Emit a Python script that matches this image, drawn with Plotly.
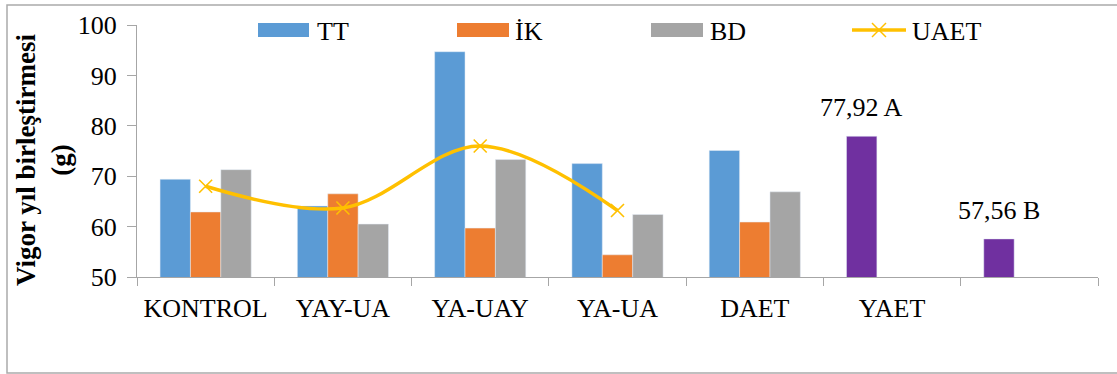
import plotly.graph_objects as go

# Treatment groups (last slot has no label)
categories = ["KONTROL", "YAY-UA", "YA-UAY", "YA-UA", "DAET", "YAET", " "]

# Vigor yıl birleştirmesi (g) per series
tt = [69.4, 64.1, 94.7, 72.5, 75.1, None, None]
ik = [62.9, 66.5, 59.7, 54.4, 60.9, None, None]
bd = [71.3, 60.5, 73.3, 62.4, 66.9, None, None]
uaet = [68.0, 63.7, 76.0, 63.2]
means = [None, None, None, None, None, 77.92, 57.56]
mean_letters = [None, None, None, None, None, "A", "B"]

series_names = ["TT", "İK", "BD", "UAET"]
y_ticks = [50, 60, 70, 80, 90, 100]

# Styling
W, H = 1117, 374
L, R, T, B = 137, 19, 25, 97
FONT = "Liberation Serif"
C_TT, C_IK, C_BD, C_LINE, C_MEAN = "#5B9BD5", "#ED7D31", "#A5A5A5", "#FFC000", "#7030A0"
AXIS_GRAY = "#A6A6A6"
BARGAP = 0.336
PW, PH = W - L - R, H - T - B


def px(x):
    return (x - L) / PW


def py(y):
    return (H - B - y) / PH


fig = go.Figure()
fig.add_bar(x=categories, y=tt, name=series_names[0], marker_color=C_TT,
            offsetgroup="tt", showlegend=False)
fig.add_bar(x=categories, y=ik, name=series_names[1], marker_color=C_IK,
            offsetgroup="ik", showlegend=False)
fig.add_bar(x=categories, y=bd, name=series_names[2], marker_color=C_BD,
            offsetgroup="bd", showlegend=False)
# group means share the TT slot
fig.add_bar(x=categories, y=means, name="Ortalama", marker_color=C_MEAN,
            offsetgroup="tt", showlegend=False)
fig.add_scatter(x=categories[:len(uaet)], y=uaet, name=series_names[3],
                mode="lines+markers", line=dict(color=C_LINE, width=3.5, shape="spline"),
                marker=dict(symbol="x-thin", size=13, line=dict(color=C_LINE, width=1.6)),
                showlegend=False)

# mean labels above the purple bars
slot = (1 - BARGAP) / 3
annotations = []
for i, (v, letter) in enumerate(zip(means, mean_letters)):
    if v is None:
        continue
    annotations.append(dict(
        x=i - slot, y=v, xref="x", yref="y", yanchor="bottom", yshift=12,
        text=f"{v:.2f}".replace(".", ",") + " " + letter, showarrow=False,
        font=dict(family=FONT, size=26, color="black")))

# y-axis title
annotations.append(dict(
    x=px(43), y=py(160), xref="paper", yref="paper", textangle=-90,
    xanchor="center", yanchor="middle",
    text="<b>Vigor yıl birleştirmesi<br>(g)</b>", showarrow=False,
    font=dict(family=FONT, size=27, color="black")))

# legend
shapes = []
legend_bars = [(258, 309, C_TT, series_names[0], 315),
               (457, 509, C_IK, series_names[1], 513),
               (651, 703, C_BD, series_names[2], 708)]
for x0, x1, col, name, tx in legend_bars:
    shapes.append(dict(type="rect", xref="paper", yref="paper",
                       x0=px(x0), x1=px(x1), y0=py(37), y1=py(23),
                       fillcolor=col, line=dict(width=0)))
    annotations.append(dict(x=px(tx), y=py(31), xref="paper", yref="paper",
                            xanchor="left", yanchor="middle", text=name, showarrow=False,
                            font=dict(family=FONT, size=26, color="black")))
shapes.append(dict(type="line", xref="paper", yref="paper",
                   x0=px(852), x1=px(906), y0=py(30), y1=py(30),
                   line=dict(color=C_LINE, width=3.5)))
for dx in (-1, 1):
    shapes.append(dict(type="line", xref="paper", yref="paper",
                       x0=px(879 - 7), x1=px(879 + 7), y0=py(30 - 7 * dx), y1=py(30 + 7 * dx),
                       line=dict(color=C_LINE, width=1.5)))
annotations.append(dict(x=px(910), y=py(31), xref="paper", yref="paper",
                        xanchor="left", yanchor="middle", text=series_names[3], showarrow=False,
                        font=dict(family=FONT, size=26, color="black")))

# outer chart border
shapes.append(dict(type="rect", xref="paper", yref="paper",
                   x0=px(7), x1=px(W + 5), y0=py(373), y1=py(5),
                   line=dict(color="#ABABAB", width=1.5), layer="below"))

fig.update_layout(
    width=W, height=H,
    margin=dict(l=L, r=R, t=T, b=B),
    paper_bgcolor="white", plot_bgcolor="white",
    barmode="group", bargap=BARGAP, bargroupgap=0,
    showlegend=False,
    annotations=annotations, shapes=shapes,
    font=dict(family=FONT, size=26, color="black"),
)
fig.update_xaxes(
    type="category", categoryorder="array", categoryarray=categories,
    range=[-0.5, len(categories) - 0.5],
    showline=True, linecolor=AXIS_GRAY, linewidth=1,
    ticks="outside", tickson="boundaries", ticklen=8, tickcolor=AXIS_GRAY,
    showgrid=False, ticklabelstandoff=8,
    tickfont=dict(family=FONT, size=26, color="black"),
)
fig.update_yaxes(
    range=[50, 100], tickvals=y_ticks,
    showline=True, linecolor=AXIS_GRAY, linewidth=1,
    ticks="outside", ticklen=9, tickcolor=AXIS_GRAY,
    showgrid=False, zeroline=False, ticklabelstandoff=5,
    tickfont=dict(family=FONT, size=26, color="black"),
)

fig.write_html("out.html")
